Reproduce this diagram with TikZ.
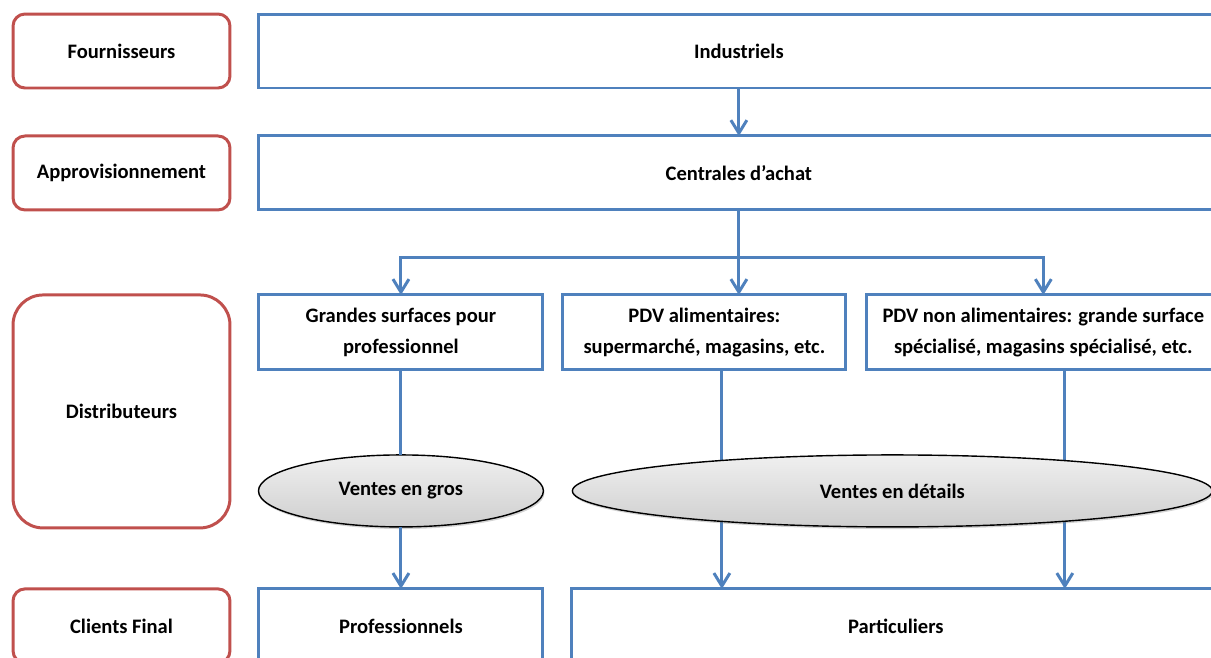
\documentclass[tikz,border=0pt]{standalone}
\usepackage{fontspec}
\setmainfont{Carlito}
\usetikzlibrary{positioning,arrows.meta,shapes.geometric,shadows,backgrounds}
\definecolor{boxblue}{RGB}{79,129,189}
\definecolor{rolered}{RGB}{192,80,77}

\begin{document}
\begin{tikzpicture}
[x=0.02cm,y=-0.02cm,
 every node/.style={font=\bfseries\fontsize{11.7}{18}\selectfont,inner sep=0mm,outer sep=0mm},
 role/.style={rectangle,rounded corners=2.4mm,draw=rolered,line width=1.7pt,minimum width=4.34cm,minimum height=1.48cm},
 actor/.style={rectangle,draw=boxblue,line width=1.7pt,minimum height=1.48cm,align=center},
 vente/.style={ellipse,draw=black,line width=0.8pt,top color=gray!12,bottom color=gray!38,
               drop shadow={opacity=0.35,shadow xshift=0.6pt,shadow yshift=-1.2pt},minimum height=1.44cm},
 flow/.style={draw=boxblue,line width=1.7pt},
 >={Straight Barb[length=2.6mm,width=3.2mm]}]
\useasboundingbox (0,0) rectangle (1211,657);
\clip (0,0) rectangle (1211,657);

% roles on the left
\node[role] (fourn) at (121.5,51)                  {Fournisseurs};
\node[role] (appro) [on grid,below=2.44cm of fourn] {Approvisionnement};
\node[role,rounded corners=6mm,minimum height=4.66cm] (distri) [on grid,below=4.77cm of appro] {Distributeurs};
\node[role] (clients) [on grid,below=4.29cm of distri] {Clients Final};

% actors
\node[actor,minimum width=19.2cm] (indus)     [on grid,right=12.35cm of fourn] {Industriels};
\node[actor,minimum width=19.2cm] (centrales) [on grid,below=2.44cm of indus]  {Centrales d’achat};
\node[actor,minimum width=5.68cm,minimum height=1.5cm] (gsp)   [on grid,below left=3.19cm and 6.76cm of centrales] {Grandes surfaces pour\\professionnel};
\node[actor,minimum width=5.66cm,minimum height=1.5cm] (pdva)  [on grid,right=6.07cm of gsp]  {PDV alimentaires:\\supermarché, magasins, etc.};
\node[actor,minimum width=7.06cm,minimum height=1.5cm] (pdvna) [on grid,right=6.78cm of pdva] {PDV non alimentaires: grande surface\\spécialisé, magasins spécialisé, etc.};

\node[vente,minimum width=5.7cm]  (gros)    [on grid,below=3.17cm of gsp]   {Ventes en gros};
\node[vente,minimum width=12.8cm] (details) [on grid,right=9.83cm of gros]  {Ventes en détails};

\node[actor,minimum width=5.68cm] (pro)  [on grid,below=2.7cm of gros] {Professionnels};
\node[actor,minimum width=12.96cm] (part) [on grid,right=9.9cm of pro]  {Particuliers};

% connectors
\path (centrales.south) ++(0,48)   coordinate (jn);
\path (pdva.south)      ++(17.5,0) coordinate (ca);
\path (pdvna.south)     ++(21.5,0) coordinate (cb);
\draw[flow,->] (indus.south) -- (centrales.north);
\draw[flow]    (centrales.south) -- (jn);
\draw[flow,->] (jn) -| (gsp.north);
\draw[flow,->] (jn) -- (jn |- pdva.north);
\draw[flow,->] (jn) -| (pdvna.north);
\draw[flow]    (gsp.south) -- (gros.north);
\draw[flow,->] (gros.south) -- (pro.north);
\begin{scope}[on background layer]
\draw[flow,->] (ca) -- (ca |- part.north);
\draw[flow,->] (cb) -- (cb |- part.north);
\end{scope}
\end{tikzpicture}
\end{document}
